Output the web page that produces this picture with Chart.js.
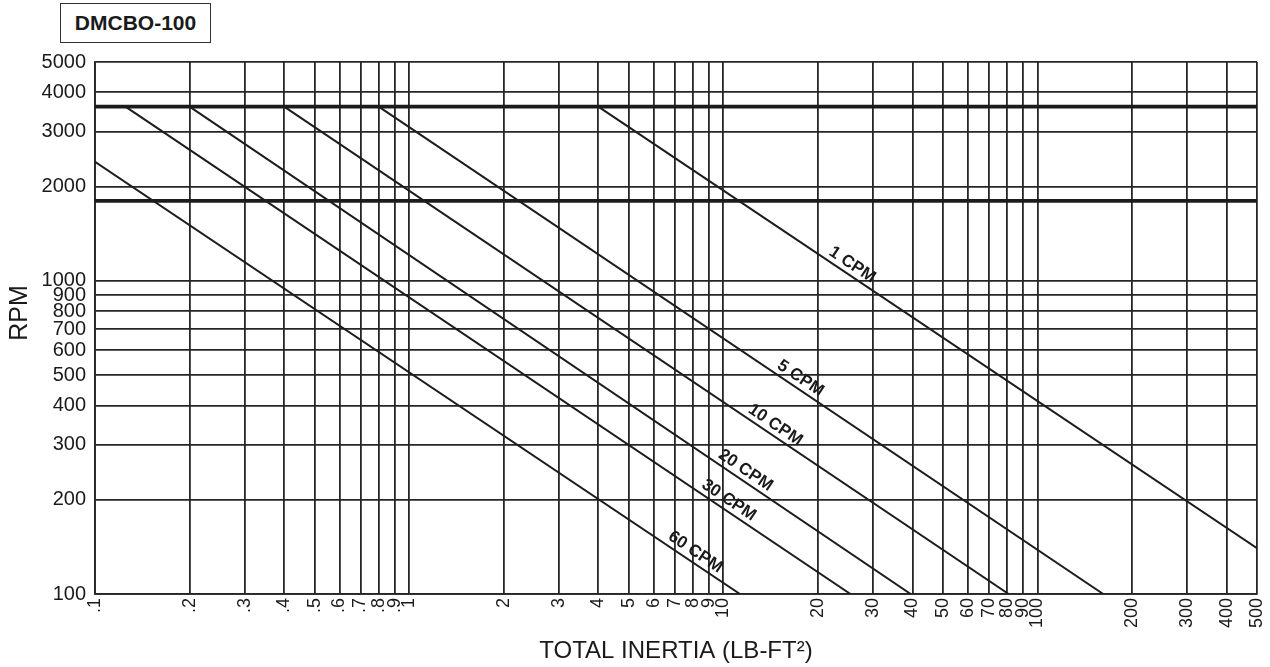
<!DOCTYPE html>
<html lang="en">
<head>
    <meta charset="UTF-8">
    <title>DMCBO-100</title>
    <script src="https://cdn.jsdelivr.net/npm/chart.js"></script>
    <style>
        body { margin: 0; background: #fff; }
        .wrap { position: relative; width: 1270px; height: 667px; }
        .modelo {
            position: absolute; left: 60px; top: 3px; width: 149px; height: 38px;
            border: 1.5px solid #333; font: bold 21px "Liberation Sans", Arial, sans-serif;
            color: #1a1a1a; display: flex; align-items: center; justify-content: center;
        }
        canvas { position: absolute; left: 0; top: 0; }
    </style>
</head>
<body>
<div class="wrap">
    <div class="modelo">DMCBO-100</div>
    <canvas id="myChart" width="1270" height="667"></canvas>
</div>

<script>
    // curvas CPM: ponto inicial e final (inercia, rpm)
    const cpmLabels = ['1 CPM', '5 CPM', '10 CPM', '20 CPM', '30 CPM', '60 CPM'];
    const startInertia = [4, 0.8, 0.4, 0.2, 0.125, 0.1];
    const startRpm = [3600, 3600, 3600, 3600, 3600, 2400];
    const endInertia = [500, 162, 81, 39.5, 25.4, 11.3];
    const endRpm = [140, 100, 100, 100, 100, 100];
    // onde fica o rotulo de cada curva (inercia)
    const labelAt = [24.7, 16.9, 14.06, 11.3, 10.0, 7.82];

    // linhas grossas (velocidade do motor)
    const motorRpm = [3600, 1800];

    const xMin = 0.1, xMax = 500;
    const yMin = 100, yMax = 5000;
    const xTickValues = [0.1, 0.2, 0.3, 0.4, 0.5, 0.6, 0.7, 0.8, 0.9, 1, 2, 3, 4, 5, 6, 7, 8, 9,
        10, 20, 30, 40, 50, 60, 70, 80, 90, 100, 200, 300, 400, 500];
    const xTickLabels = ['.1', '.2', '.3', '.4', '.5', '.6', '.7', '.8', '.9', '1', '2', '3', '4', '5', '6', '7', '8', '9',
        '10', '20', '30', '40', '50', '60', '70', '80', '90', '100', '200', '300', '400', '500'];
    const yTickValues = [100, 200, 300, 400, 500, 600, 700, 800, 900, 1000, 2000, 3000, 4000, 5000];

    const fonte = '"Liberation Sans", Arial, sans-serif';
    const corLinha = '#1c1c1c';
    const corGrade = '#262626';

    const datasets = [];
    motorRpm.forEach(function (r) {
        datasets.push({
            data: [{ x: xMin, y: r }, { x: xMax, y: r }],
            showLine: true, borderColor: corLinha, borderWidth: 3.8, pointRadius: 0
        });
    });
    cpmLabels.forEach(function (nome, i) {
        datasets.push({
            label: nome,
            data: [{ x: startInertia[i], y: startRpm[i] }, { x: endInertia[i], y: endRpm[i] }],
            showLine: true, borderColor: corLinha, borderWidth: 2, pointRadius: 0
        });
    });

    // rotulos das curvas + titulo RPM
    const rotulos = {
        id: 'rotulos',
        afterDatasetsDraw(chart) {
            const ctx = chart.ctx;
            const xs = chart.scales.x, ys = chart.scales.y;
            ctx.save();
            ctx.fillStyle = '#1a1a1a';
            ctx.font = 'bold 17px ' + fonte;
            ctx.textAlign = 'center';
            ctx.textBaseline = 'middle';
            cpmLabels.forEach(function (nome, i) {
                const x1 = xs.getPixelForValue(startInertia[i]), y1 = ys.getPixelForValue(startRpm[i]);
                const x2 = xs.getPixelForValue(endInertia[i]), y2 = ys.getPixelForValue(endRpm[i]);
                const a = Math.atan2(y2 - y1, x2 - x1);
                const px = xs.getPixelForValue(labelAt[i]);
                const py = y1 + (y2 - y1) * (px - x1) / (x2 - x1);
                const cx = px + 10 * Math.sin(a), cy = py - 10 * Math.cos(a);
                ctx.save();
                ctx.translate(cx, cy);
                ctx.rotate(a);
                ctx.fillText(nome, 0, 0);
                ctx.restore();
            });
            ctx.font = '25px ' + fonte;
            ctx.translate(20, 313);
            ctx.rotate(-Math.PI / 2);
            ctx.fillText('RPM', 0, 0);
            ctx.restore();
        }
    };

    const ctx = document.getElementById('myChart');
    new Chart(ctx, {
        type: 'scatter',
        data: { datasets: datasets },
        plugins: [rotulos],
        options: {
            responsive: false,
            animation: false,
            layout: { padding: { top: 62, right: 13, left: 0, bottom: 0 } },
            plugins: { legend: { display: false }, tooltip: { enabled: false } },
            scales: {
                x: {
                    type: 'logarithmic',
                    min: xMin, max: xMax,
                    afterBuildTicks: function (axis) { axis.ticks = xTickValues.map(v => ({ value: v })); },
                    afterFit: function (axis) {
                        axis.height = 73;
                        axis.paddingLeft = 0;
                        axis.paddingRight = 0;
                    },
                    grid: { color: corGrade, lineWidth: 1.8, drawTicks: false },
                    border: { color: corGrade, width: 1.8 },
                    ticks: {
                        autoSkip: false, minRotation: 90, maxRotation: 90, padding: 4,
                        color: '#1a1a1a', font: { family: fonte, size: 18 },
                        callback: function (v, i) { return xTickLabels[i]; }
                    },
                    title: {
                        display: true, text: 'TOTAL INERTIA (LB-FT²)', color: '#1a1a1a',
                        font: { family: fonte, size: 24 }, padding: { top: 0, bottom: 1 }
                    }
                },
                y: {
                    type: 'logarithmic',
                    min: yMin, max: yMax,
                    afterBuildTicks: function (axis) { axis.ticks = yTickValues.map(v => ({ value: v })); },
                    afterFit: function (axis) { axis.width = 95; },
                    grid: { color: corGrade, lineWidth: 1.8, drawTicks: false },
                    border: { color: corGrade, width: 1.8 },
                    ticks: {
                        autoSkip: false, padding: 9,
                        color: '#1a1a1a', font: { family: fonte, size: 20 },
                        callback: function (v) { return String(v); }
                    }
                }
            }
        }
    });
</script>
</body>
</html>
